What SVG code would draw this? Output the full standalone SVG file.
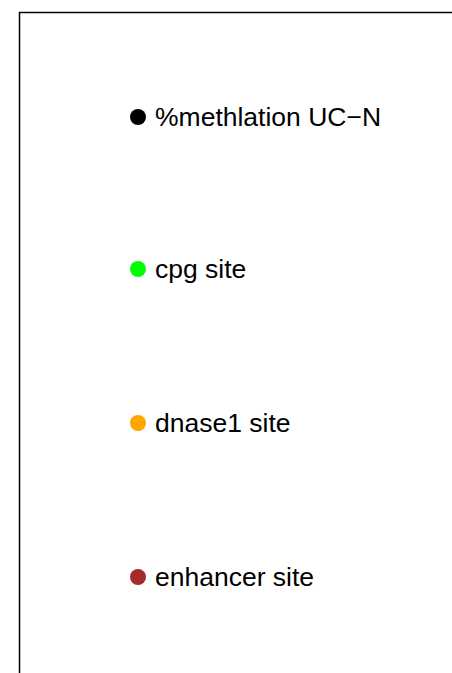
<svg xmlns="http://www.w3.org/2000/svg" width="452" height="673" viewBox="0 0 452 673">
  <style>
    .lbl { font-family: "Liberation Sans", Arial, sans-serif; font-size: 26.5px; fill: #000; }
    .frame { fill: none; stroke: #000; stroke-width: 1.5; }
  </style>
  <rect width="452" height="673" fill="#fff"/>
  <!-- plot frame, open on the right and bottom -->
  <path class="frame" d="M19.5,680 V12.5 H460"/>
  <g id="legend-methylation">
    <circle cx="138" cy="117" r="8" fill="#000"/>
    <text class="lbl" x="155" y="126">%methlation UC−N</text>
  </g>
  <g id="legend-cpg">
    <circle cx="138" cy="269" r="8" fill="#00ff00"/>
    <text class="lbl" x="155" y="278">cpg site</text>
  </g>
  <g id="legend-dnase1">
    <circle cx="138" cy="423" r="8" fill="#ffa500"/>
    <text class="lbl" x="155" y="432">dnase1 site</text>
  </g>
  <g id="legend-enhancer">
    <circle cx="138" cy="577" r="8" fill="#a52a2a"/>
    <text class="lbl" x="155" y="586">enhancer site</text>
  </g>
</svg>
